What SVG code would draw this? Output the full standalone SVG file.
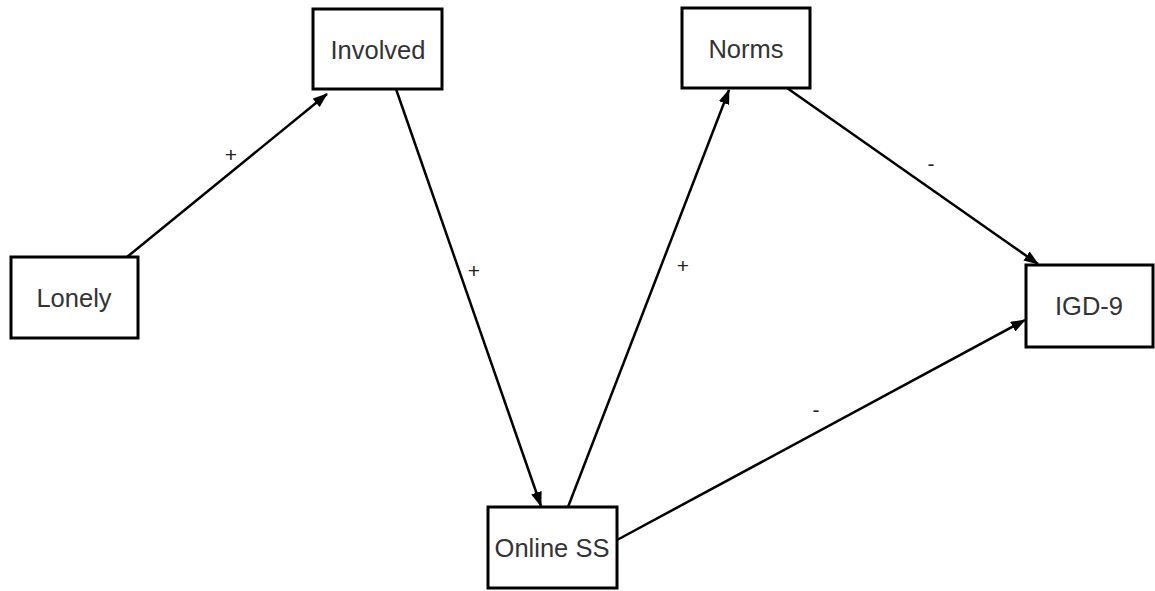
<svg xmlns="http://www.w3.org/2000/svg" width="1155" height="591" viewBox="0 0 1155 591">
<style>
.box{fill:#fff;stroke:#000;stroke-width:3}
.lbl{font-family:"Liberation Sans",Arial,sans-serif;font-size:25.5px;fill:#333;text-anchor:middle}
.sign{font-family:"Liberation Sans",Arial,sans-serif;font-size:21px;fill:#222;text-anchor:middle}
.edge{stroke:#000;stroke-width:2.5;fill:none;marker-end:url(#ah)}
</style>
<defs>
<marker id="ah" viewBox="0 0 15 11" refX="14" refY="5.5" markerWidth="15" markerHeight="11" markerUnits="userSpaceOnUse" orient="auto">
<path d="M0,0 L15,5.5 L0,11 Z" fill="#000"/>
</marker>
</defs>
<rect width="1155" height="591" fill="#fff"/>
<g id="connectors">
<line class="edge" x1="127" y1="257" x2="327" y2="94"/>
<line class="edge" x1="396" y1="89" x2="541" y2="506"/>
<line class="edge" x1="568" y1="507" x2="729" y2="90"/>
<line class="edge" x1="787" y1="88" x2="1038" y2="264"/>
<line class="edge" x1="617" y1="540" x2="1025" y2="320"/>
<text class="sign" x="231" y="162">+</text>
<text class="sign" x="474" y="278">+</text>
<text class="sign" x="683" y="273">+</text>
<text class="sign" x="931" y="171">-</text>
<text class="sign" x="816" y="417">-</text>
</g>
<g id="node-lonely"><rect class="box" x="11" y="257" width="127" height="81"/><text class="lbl" x="74" y="307">Lonely</text></g>
<g id="node-involved"><rect class="box" x="313" y="9" width="129" height="80"/><text class="lbl" x="378" y="59">Involved</text></g>
<g id="node-norms"><rect class="box" x="682" y="8" width="128" height="80"/><text class="lbl" x="746" y="58">Norms</text></g>
<g id="node-igd9"><rect class="box" x="1026" y="265" width="127" height="82"/><text class="lbl" x="1089" y="315">IGD-9</text></g>
<g id="node-onliness"><rect class="box" x="488" y="507" width="129" height="81"/><text class="lbl" x="552" y="557">Online SS</text></g>
</svg>
